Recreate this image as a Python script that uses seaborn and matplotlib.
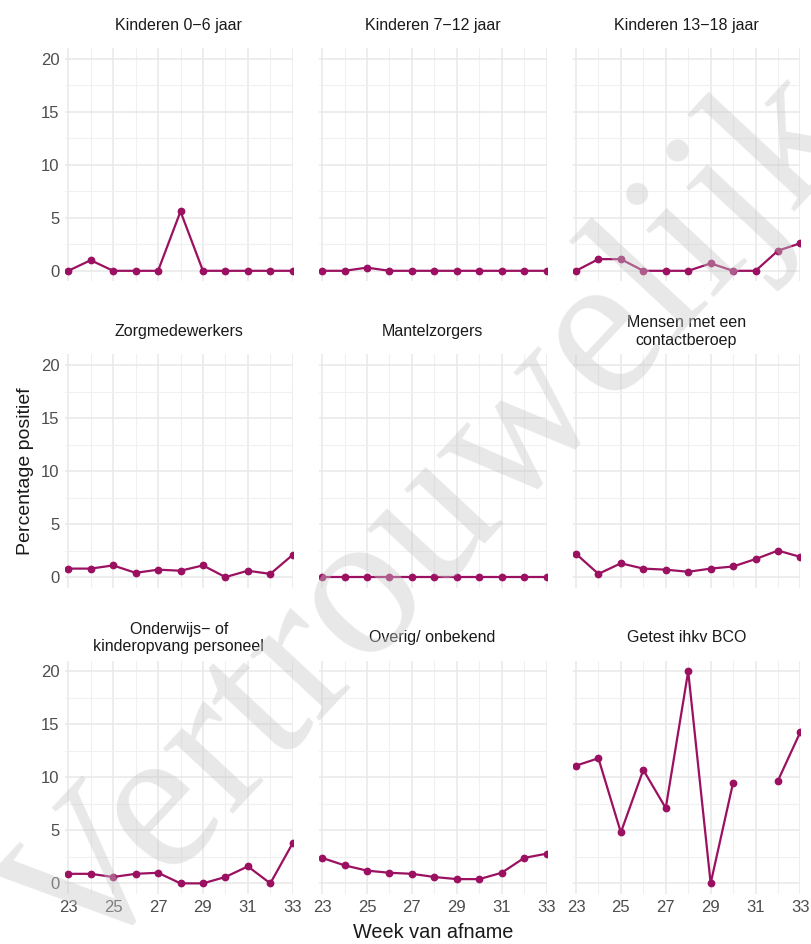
import numpy as np
import pandas as pd
import matplotlib.pyplot as plt
import matplotlib.ticker as mticker
import seaborn as sns

# Weekly percentage positive per group
weeks = [23, 24, 25, 26, 27, 28, 29, 30, 31, 32, 33]

groups = [
    "Kinderen 0\u22126 jaar",
    "Kinderen 7\u221212 jaar",
    "Kinderen 13\u221218 jaar",
    "Zorgmedewerkers",
    "Mantelzorgers",
    "Mensen met een\ncontactberoep",
    "Onderwijs\u2212 of\nkinderopvang personeel",
    "Overig/ onbekend",
    "Getest ihkv BCO",
]

kind_0_6 = [0, 1.0, 0, 0, 0, 5.6, 0, 0, 0, 0, 0]
kind_7_12 = [0, 0, 0.3, 0, 0, 0, 0, 0, 0, 0, 0]
kind_13_18 = [0, 1.1, 1.1, 0, 0, 0, 0.7, 0, 0, 1.9, 2.6]
zorg = [0.8, 0.8, 1.1, 0.4, 0.7, 0.6, 1.1, 0, 0.6, 0.3, 2.1]
mantel = [0, 0, 0, 0, 0, 0, 0, 0, 0, 0, 0]
contact = [2.2, 0.3, 1.3, 0.8, 0.7, 0.5, 0.8, 1.0, 1.7, 2.5, 1.9]
onderwijs = [0.9, 0.9, 0.6, 0.9, 1.0, 0, 0, 0.6, 1.6, 0, 3.8]
overig = [2.4, 1.7, 1.2, 1.0, 0.9, 0.6, 0.4, 0.4, 1.0, 2.4, 2.8]
bco = [11.1, 11.8, 4.8, 10.7, 7.1, 20.0, 0, 9.5, np.nan, 9.7, 14.3]

series = [kind_0_6, kind_7_12, kind_13_18, zorg, mantel, contact,
          onderwijs, overig, bco]

rows = []
for g, vals in zip(groups, series):
    seg = 0
    for w, v in zip(weeks, vals):
        if np.isnan(v):
            seg += 1  # break the line at missing weeks
            continue
        rows.append({"Groep": g, "Week": w, "Pct": v, "seg": seg})
df = pd.DataFrame(rows)

colour = "#9B1060"

sns.set_theme(style="white")
plt.rcParams["font.family"] = ["Liberation Sans", "DejaVu Sans"]

fig, axes = plt.subplots(3, 3, figsize=(8.11, 9.44), dpi=100,
                         sharex=True, sharey=True)
plt.subplots_adjust(left=0.080, right=0.987, bottom=0.053, top=0.949,
                    wspace=0.114, hspace=0.313)

for ax, g in zip(axes.flat, groups):
    sub = df[df["Groep"] == g]
    sns.lineplot(data=sub, x="Week", y="Pct", units="seg", estimator=None,
                 color=colour, lw=1.6, marker="o", markersize=5.6,
                 markeredgewidth=0, ax=ax)
    ax.set_xlim(22.85, 33)
    ax.set_ylim(-1, 21)
    ax.xaxis.set_major_locator(mticker.FixedLocator([23, 25, 27, 29, 31, 33]))
    ax.xaxis.set_minor_locator(mticker.FixedLocator([24, 26, 28, 30, 32]))
    ax.yaxis.set_major_locator(mticker.FixedLocator([0, 5, 10, 15, 20]))
    ax.yaxis.set_minor_locator(mticker.FixedLocator([2.5, 7.5, 12.5, 17.5]))
    ax.grid(which="major", color="#e8e8e8", lw=1.1)
    ax.grid(which="minor", color="#f0f0f0", lw=0.8)
    ax.set_axisbelow(True)
    for s in ax.spines.values():
        s.set_visible(False)
    ax.tick_params(length=0, labelsize=12, labelcolor="#4d4d4d", pad=4)
    ax.set_xlabel("")
    ax.set_ylabel("")
    ax.annotate(g, xy=(0.5, 1), xycoords="axes fraction", xytext=(0, 23),
                textcoords="offset pixels", ha="center", va="center",
                fontsize=11.5, color="#1a1a1a", linespacing=1.2)

fig.text(0.534, 0.012, "Week van afname", ha="center", va="center",
         fontsize=14.3, color="#1a1a1a")
fig.text(0.031, 0.501, "Percentage positief", ha="center", va="center",
         rotation=90, fontsize=14, color="#1a1a1a")

# watermark
fig.text(0.535, 0.447, "Vertrouwelijk", ha="center", va="center",
         rotation=47, fontsize=150, family="Liberation Serif",
         color="#c8c8c8", alpha=0.42, zorder=10)

plt.savefig("out.png", dpi=100)
